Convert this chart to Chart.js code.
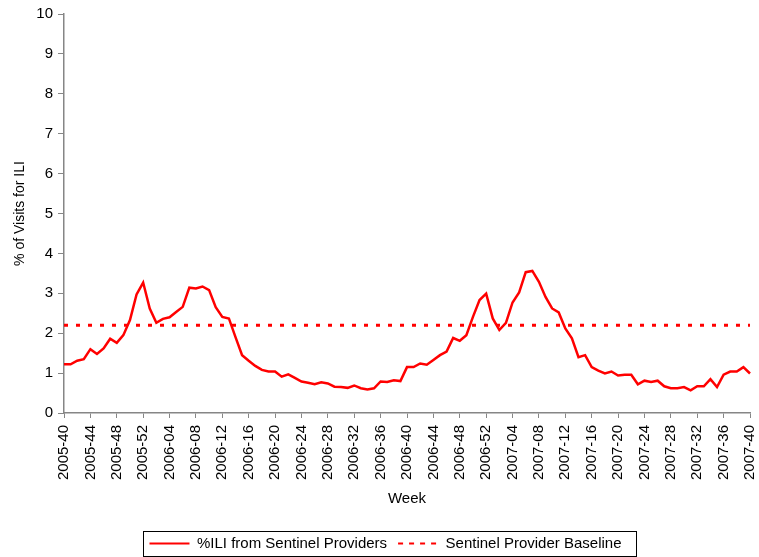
<!DOCTYPE html>
<html>
<head>
<meta charset="utf-8">
<script src="https://cdn.jsdelivr.net/npm/chart.js@4"></script>
<style>
html,body{margin:0;padding:0;background:#fff;}
#wrap{position:relative;width:759px;height:557px;}
</style>
</head>
<body>
<div id="wrap"><canvas id="c" width="759" height="557"></canvas></div>
<script>
// Category weeks (year-week)
const weeks2005 = [40,41,42,43,44,45,46,47,48,49,50,51,52];
const weeks2006 = [1,2,3,4,5,6,7,8,9,10,11,12,13,14,15,16,17,18,19,20,21,22,23,24,25,26,27,28,29,30,31,32,33,34,35,36,37,38,39,40,41,42,43,44,45,46,47,48,49,50,51,52];
const weeks2007 = [1,2,3,4,5,6,7,8,9,10,11,12,13,14,15,16,17,18,19,20,21,22,23,24,25,26,27,28,29,30,31,32,33,34,35,36,37,38,39,40];

// %ILI from Sentinel Providers
const ili2005 = [1.22,1.22,1.31,1.35,1.60,1.48,1.62,1.86,1.76,1.95,2.33,2.97,3.27];
const ili2006 = [2.62,2.26,2.36,2.40,2.53,2.66,3.14,3.12,3.17,3.08,2.65,2.41,2.37,1.90,1.45,1.31,1.18,1.08,1.04,1.04,
                 0.91,0.97,0.88,0.79,0.76,0.72,0.77,0.74,0.66,0.65,0.63,0.69,0.62,0.59,0.62,0.79,0.78,0.82,0.80,1.15,
                 1.15,1.24,1.21,1.33,1.45,1.54,1.88,1.81,1.95,2.41,2.83,2.99];
const ili2007 = [2.37,2.08,2.26,2.77,3.02,3.53,3.56,3.29,2.91,2.62,2.52,2.12,1.87,1.40,1.45,1.15,1.06,0.99,1.04,0.94,
                 0.96,0.96,0.72,0.81,0.78,0.81,0.67,0.62,0.62,0.65,0.57,0.67,0.67,0.85,0.65,0.96,1.04,1.04,1.15,0.99];

// Sentinel Provider Baseline
const baselineValue = 2.2;

// Y tick range
const yTicks = {min: 0, max: 10, step: 1};

const pad = n => String(n).padStart(2, '0');
const labels = [
  ...weeks2005.map(w => '2005-' + pad(w)),
  ...weeks2006.map(w => '2006-' + pad(w)),
  ...weeks2007.map(w => '2007-' + pad(w))
];
const iliData = [...ili2005, ...ili2006, ...ili2007];
const baselineData = [
  {x: labels[0], y: baselineValue},
  {x: labels[labels.length - 1], y: baselineValue}
];

const FONT = "'Liberation Sans', Arial, sans-serif";
const AXIS = '#868686';

const legendTweak = {
  id: 'legendTweak',
  afterUpdate(chart) {
    const lg = chart.legend;
    if (!lg) return;
    const dx = 6, dy = 4;
    lg.left += dx; lg.right += dx; lg.top += dy; lg.bottom += dy;
    (lg.legendHitBoxes || []).forEach(h => { h.left += dx; h.top += dy; });
  },
  afterDraw(chart) {
    const boxes = chart.legend && chart.legend.legendHitBoxes;
    if (!boxes || !boxes.length) return;
    let l = Infinity, t = Infinity, r = -Infinity, b = -Infinity;
    boxes.forEach(h => { l = Math.min(l, h.left); t = Math.min(t, h.top); r = Math.max(r, h.left + h.width); b = Math.max(b, h.top + h.height); });
    const ctx = chart.ctx;
    ctx.save();
    ctx.strokeStyle = '#000';
    ctx.lineWidth = 1;
    ctx.strokeRect(Math.round(l - 6) + 0.5, Math.round(t - 5) + 0.5, Math.round(r - l + 21), Math.round(b - t + 10));
    ctx.restore();
  }
};

new Chart(document.getElementById('c'), {
  type: 'line',
  data: {
    labels: labels,
    datasets: [
      {
        label: '%ILI from Sentinel Providers',
        data: iliData,
        borderColor: '#FF0000',
        backgroundColor: '#FF0000',
        borderWidth: 2.5,
        pointRadius: 0,
        tension: 0,
        fill: false
      },
      {
        label: 'Sentinel Provider Baseline',
        data: baselineData,
        borderColor: '#FF0000',
        backgroundColor: '#FF0000',
        borderWidth: 3,
        borderDash: [4, 8],
        borderCapStyle: 'butt',
        pointRadius: 0,
        tension: 0,
        fill: false
      }
    ]
  },
  options: {
    responsive: false,
    animation: false,
    layout: {padding: {left: 0, right: 0, top: 10, bottom: 0}},
    plugins: {
      tooltip: {enabled: false},
      legend: {
        position: 'bottom',
        labels: {
          font: {family: FONT, size: 15},
          color: '#000',
          usePointStyle: true,
          pointStyle: 'line',
          boxWidth: 40,
          boxHeight: 15,
          pointStyleWidth: 40,
          padding: 11,
          generateLabels(chart) {
            const items = Chart.defaults.plugins.legend.labels.generateLabels(chart);
            items.forEach((it, i) => {
              it.lineDash = i === 1 ? [5, 6] : [];
              it.lineWidth = 2;
              it.strokeStyle = '#FF0000';
              it.pointStyle = 'line';
            });
            return items;
          }
        }
      }
    },
    scales: {
      x: {
        type: 'category',
        offset: false,
        afterFit(scale) { scale.height = 108; scale.paddingRight = 9; scale.paddingLeft = 0; },
        grid: {
          drawOnChartArea: false,
          drawTicks: true,
          tickLength: 5,
          offset: false,
          color: ctx => (ctx.index % 4 === 0 ? AXIS : 'rgba(0,0,0,0)')
        },
        border: {display: true, color: AXIS, width: 1.5},
        ticks: {
          autoSkip: false,
          maxRotation: 90,
          minRotation: 90,
          font: {family: FONT, size: 15},
          color: '#000',
          padding: 7,
          callback: function(v, i) { return i % 4 === 0 ? this.getLabelForValue(v) : ''; }
        },
        title: {display: true, text: 'Week', font: {family: FONT, size: 15}, color: '#000', padding: {top: 0, bottom: 13}}
      },
      y: {
        min: yTicks.min,
        max: yTicks.max,
        afterFit(scale) { scale.width = 64; },
        grid: {drawOnChartArea: false, drawTicks: true, tickLength: 6, color: AXIS},
        border: {display: true, color: AXIS, width: 1.5},
        ticks: {stepSize: yTicks.step, font: {family: FONT, size: 15}, color: '#000', padding: 5},
        title: {display: true, text: '% of Visits for ILI', font: {family: FONT, size: 14}, color: '#000', padding: {top: 12, bottom: 0}}
      }
    }
  },
  plugins: [legendTweak]
});
</script>
</body>
</html>
